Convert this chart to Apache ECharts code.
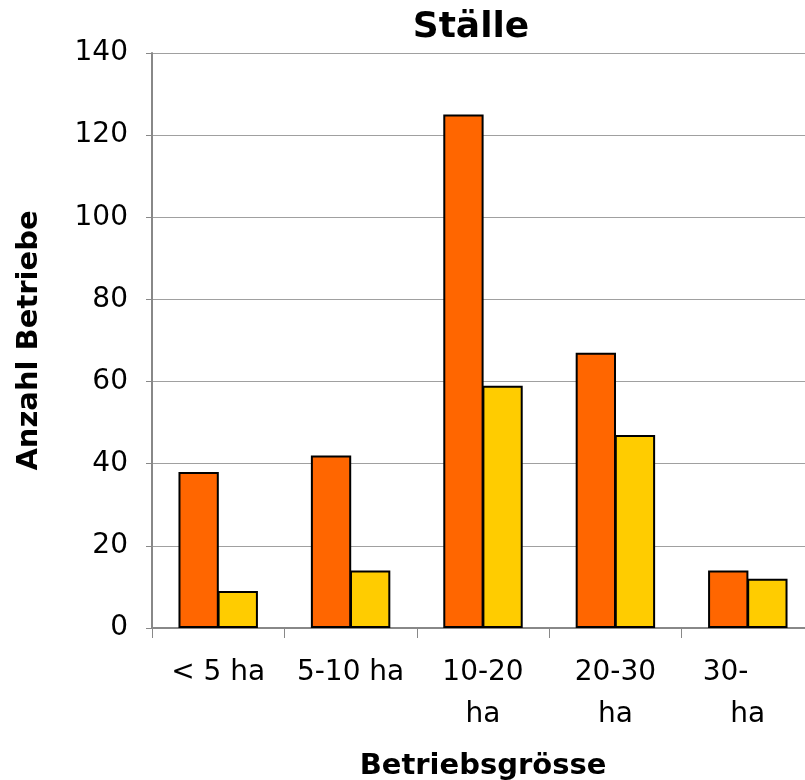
<!DOCTYPE html>
<html>
<head>
<meta charset="utf-8">
<script src="https://cdn.jsdelivr.net/npm/echarts@6/dist/echarts.min.js"></script>
<style>
  html, body { margin: 0; padding: 0; background: #ffffff; }
  #chart { width: 805px; height: 780px; }
</style>
</head>
<body>
<div id="chart"></div>
<script>
// Farm size classes and number of farms per series
const categories = ['< 5 ha', '5-10 ha', '10-20\nha', '20-30\nha', '30-     \nha'];
const seriesA = [38, 42, 125, 67, 14];
const seriesB = [9, 14, 59, 47, 12];
const yTicks = { min: 0, max: 140, interval: 20 };

const FONT = '"DejaVu Sans", Verdana, sans-serif';

const chart = echarts.init(document.getElementById('chart'), null, { renderer: 'canvas' });

const barStyle = (color) => ({
  color: color,
  borderColor: '#000000',
  borderWidth: 2
});

chart.setOption({
  animation: false,
  backgroundColor: '#ffffff',
  title: {
    text: 'Ställe',
    left: 466,
    textAlign: 'center',
    top: 5,
    textStyle: { fontFamily: FONT, fontWeight: 'bold', fontSize: 36, color: '#000000' }
  },
  grid: { left: 152, right: -9, top: 53, bottom: 152, containLabel: false, outerBoundsMode: 'none' },
  xAxis: {
    type: 'category',
    data: categories,
    name: 'Betriebsgrösse',
    nameLocation: 'middle',
    nameGap: 124,
    nameTextStyle: { fontFamily: FONT, fontWeight: 'bold', fontSize: 29, color: '#000000' },
    axisLine: { show: true, lineStyle: { color: '#888888', width: 2 } },
    axisTick: { show: true, alignWithLabel: false, length: 10, lineStyle: { color: '#888888', width: 1 } },
    axisLabel: {
      fontFamily: FONT, fontSize: 28, color: '#000000',
      margin: 24, lineHeight: 42, interval: 0, verticalAlign: 'top'
    },
    splitLine: { show: false }
  },
  yAxis: {
    type: 'value',
    min: yTicks.min,
    max: yTicks.max,
    interval: yTicks.interval,
    name: 'Anzahl Betriebe',
    nameLocation: 'middle',
    nameGap: 108,
    nameRotate: 90,
    nameTextStyle: { fontFamily: FONT, fontWeight: 'bold', fontSize: 29, color: '#000000' },
    axisLine: { show: true, lineStyle: { color: '#888888', width: 2 } },
    axisTick: { show: true, length: 6, lineStyle: { color: '#888888', width: 1 } },
    axisLabel: { fontFamily: FONT, fontSize: 28, color: '#000000', margin: 24 },
    splitLine: { show: true, lineStyle: { color: '#a0a0a0', width: 1 } }
  },
  series: [
    {
      type: 'bar',
      data: seriesA,
      itemStyle: barStyle('#ff6600'),
      barGap: '-3%',
      barCategoryGap: '40%'
    },
    {
      type: 'bar',
      data: seriesB,
      itemStyle: barStyle('#ffcc00'),
      barGap: '-3%',
      barCategoryGap: '40%'
    }
  ]
});
</script>
</body>
</html>
